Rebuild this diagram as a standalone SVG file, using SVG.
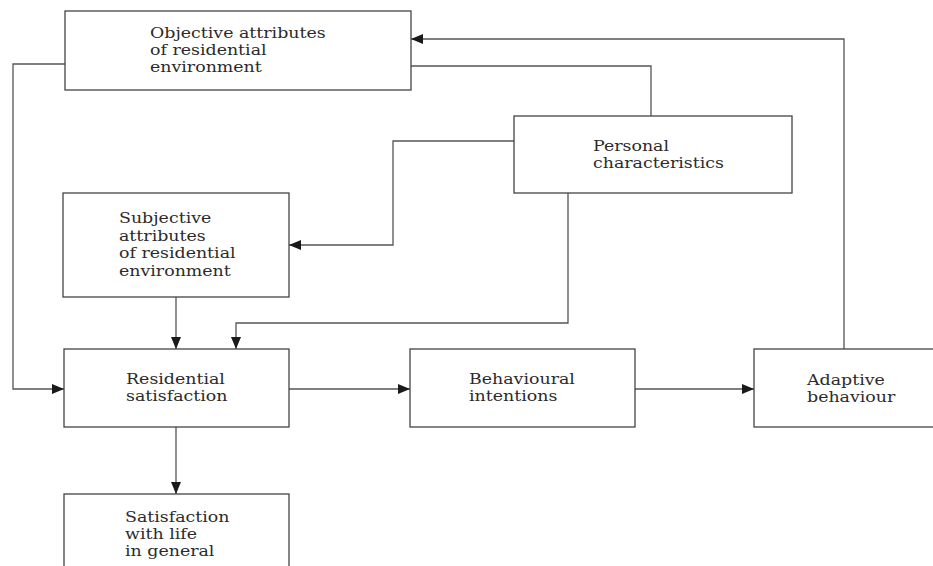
<svg xmlns="http://www.w3.org/2000/svg" width="933" height="566" viewBox="0 0 933 566">
<style>
.box{fill:#fff;stroke:#444;stroke-width:1.3}
.t{font-family:"DejaVu Serif","Liberation Serif",serif;font-size:14.5px;fill:#2b2b2b}
.c{fill:none;stroke:#555;stroke-width:1.3}
</style>
<defs>
<marker id="ah" viewBox="0 0 12 10" refX="12" refY="5" markerWidth="12" markerHeight="10" markerUnits="userSpaceOnUse" orient="auto">
<path d="M0,0 L12,5 L0,10 Z" fill="#1a1a1a"/>
</marker>
</defs>
<rect width="933" height="566" fill="#fff"/>
<g id="connectors">
<path class="c" d="M65,64 H13 V389 H64" marker-end="url(#ah)"/>
<path class="c" d="M411,66 H651 V116"/>
<path class="c" d="M844,349 V39 H411" marker-end="url(#ah)"/>
<path class="c" d="M514,141 H393 V245 H289" marker-end="url(#ah)"/>
<path class="c" d="M176,297 V349" marker-end="url(#ah)"/>
<path class="c" d="M568,193 V323 H236 V349" marker-end="url(#ah)"/>
<path class="c" d="M289,389 H410" marker-end="url(#ah)"/>
<path class="c" d="M635,389 H754" marker-end="url(#ah)"/>
<path class="c" d="M176,427 V494" marker-end="url(#ah)"/>
</g>
<g id="objective">
<rect class="box" x="65" y="11" width="346" height="79"/>
<text class="t" transform="translate(150,38) scale(1.2,1)">Objective attributes<tspan x="0" dy="17">of residential</tspan><tspan x="0" dy="17">environment</tspan></text>
</g>
<g id="personal">
<rect class="box" x="514" y="116" width="278" height="77"/>
<text class="t" transform="translate(593,151) scale(1.2,1)">Personal<tspan x="0" dy="17">characteristics</tspan></text>
</g>
<g id="subjective">
<rect class="box" x="63" y="193" width="226" height="104"/>
<text class="t" transform="translate(119,223) scale(1.2,1)">Subjective<tspan x="0" dy="17.7">attributes</tspan><tspan x="0" dy="17.7">of residential</tspan><tspan x="0" dy="17.7">environment</tspan></text>
</g>
<g id="residential">
<rect class="box" x="64" y="349" width="225" height="78"/>
<text class="t" transform="translate(126,384) scale(1.2,1)">Residential<tspan x="0" dy="17.5">satisfaction</tspan></text>
</g>
<g id="behavioural">
<rect class="box" x="410" y="349" width="225" height="78"/>
<text class="t" transform="translate(469,384) scale(1.2,1)">Behavioural<tspan x="0" dy="17.5">intentions</tspan></text>
</g>
<g id="adaptive">
<rect class="box" x="754" y="349" width="185" height="78"/>
<text class="t" transform="translate(807,385) scale(1.2,1)">Adaptive<tspan x="0" dy="17">behaviour</tspan></text>
</g>
<g id="satisfaction">
<rect class="box" x="64" y="494" width="225" height="80"/>
<text class="t" transform="translate(125,522) scale(1.2,1)">Satisfaction<tspan x="0" dy="17">with life</tspan><tspan x="0" dy="17">in general</tspan></text>
</g>
</svg>
